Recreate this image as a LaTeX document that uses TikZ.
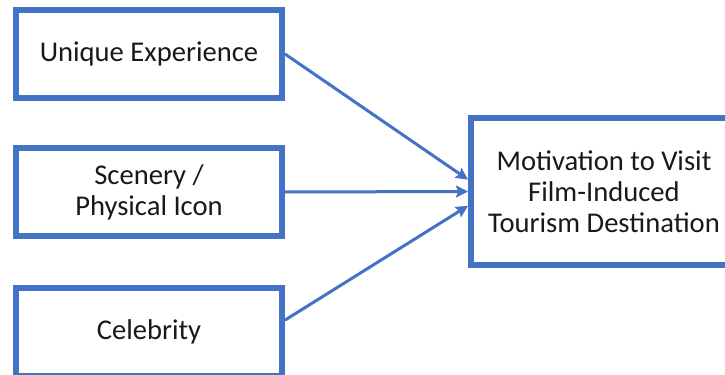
\documentclass[tikz,border=0pt]{standalone}
\usepackage{fontspec}
\setmainfont{Carlito}
\usetikzlibrary{positioning, arrows.meta}
\definecolor{boxblue}{HTML}{4472C4}

\begin{document}
\begin{tikzpicture}[x=0.5pt, y=-0.5pt,
    box/.style={draw=boxblue, line width=3pt, fill=white, align=center,
        minimum width=133pt, minimum height=44pt, inner sep=0pt,
        font=\fontsize{14.3}{15.5}\selectfont, text=black!90},
    link/.style={draw=boxblue, line width=1.5pt, -{Stealth[length=6pt, width=6pt, inset=1pt]}}]
    \useasboundingbox (0,0) rectangle (725,375);
    \clip (0,0) rectangle (725,375);

    \node[box] (unique) at (149,54) {Unique Experience};
    \node[box] (scenery) at (149,192) {Scenery /\\Physical Icon};
    \node[box] (celebrity) at (149,332) {Celebrity};
    \node[box, minimum height=73.5pt] (motivation) at (604,191.5) {Motivation to Visit\\Film-Induced\\Tourism Destination};

    \draw[link] (unique.east) -- (motivation.175);
    \draw[link] (scenery.east) -- (motivation.west);
    \draw[link] (celebrity.5) -- (motivation.186);
\end{tikzpicture}
\end{document}
